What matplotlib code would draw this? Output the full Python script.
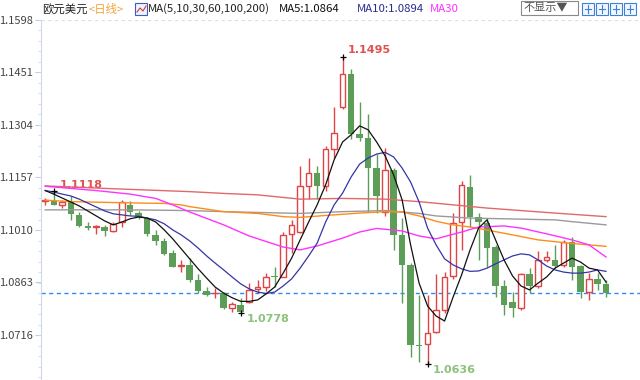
import numpy as np
import matplotlib
matplotlib.use("Agg")
import matplotlib.pyplot as plt
from matplotlib.patches import Rectangle
from matplotlib.lines import Line2D
from matplotlib.ticker import FixedLocator

plt.rcParams['font.family'] = ['Noto Sans CJK SC', 'DejaVu Sans']

# 欧元美元 日线
opens = [1.1091, 1.1092, 1.1080, 1.1092, 1.1052, 1.1021, 1.1019, 1.1018, 1.1008, 1.1033,
         1.1080, 1.1057, 1.1043, 1.0996, 1.0979, 1.0946, 1.0909, 1.0912, 1.0870, 1.0840,
         1.0832, 1.0833, 1.0791, 1.0800, 1.0809, 1.0844, 1.0851, 1.0881, 1.0879, 1.0998,
         1.1003, 1.1134, 1.1169, 1.1132, 1.1236, 1.1353, 1.1447, 1.1279, 1.1267, 1.1183,
         1.1061, 1.1178, 1.0996, 1.0912, 1.0688, 1.0692, 1.0725, 1.0787, 1.0880, 1.1031,
         1.1130, 1.1046, 1.1029, 1.0963, 1.0853, 1.0809, 1.0791, 1.0887, 1.0853, 1.0926,
         1.0926, 1.0912, 1.0975, 1.0909, 1.0837, 1.0872, 1.0859]
highs = [1.1099, 1.1118, 1.1094, 1.1104, 1.1061, 1.1033, 1.1024, 1.1024, 1.1033, 1.1094,
         1.1092, 1.1064, 1.1047, 1.1010, 1.0987, 1.0954, 1.0926, 1.0931, 1.0887, 1.0851,
         1.0847, 1.0837, 1.0809, 1.0819, 1.0860, 1.0870, 1.0889, 1.0907, 1.1005, 1.1038,
         1.1188, 1.1211, 1.1188, 1.1246, 1.1354, 1.1495, 1.1459, 1.1367, 1.1333, 1.1221,
         1.1239, 1.1183, 1.1043, 1.0917, 1.0828, 1.0828, 1.0887, 1.0893, 1.1057, 1.1146,
         1.1164, 1.1057, 1.1043, 1.0968, 1.0870, 1.0837, 1.0889, 1.0903, 1.0952, 1.0952,
         1.0968, 1.0982, 1.0990, 1.0912, 1.0889, 1.0889, 1.0870]
lows = [1.1080, 1.1079, 1.1071, 1.1038, 1.1019, 1.1010, 1.0999, 1.0993, 1.1005, 1.1019,
        1.1052, 1.1040, 1.0993, 1.0968, 1.0940, 1.0906, 1.0893, 1.0865, 1.0834, 1.0825,
        1.0819, 1.0789, 1.0781, 1.0778, 1.0805, 1.0833, 1.0840, 1.0851, 1.0877, 1.0945,
        1.1001, 1.1096, 1.1096, 1.1118, 1.1211, 1.1347, 1.1263, 1.1258, 1.1059, 1.1057,
        1.1049, 1.0954, 1.0805, 1.0655, 1.0641, 1.0636, 1.0722, 1.0777, 1.0873, 1.0954,
        1.1018, 1.0926, 1.0906, 1.0823, 1.0772, 1.0767, 1.0786, 1.0833, 1.0847, 1.0921,
        1.0903, 1.0907, 1.0870, 1.0819, 1.0814, 1.0842, 1.0823]
closes = [1.1093, 1.1080, 1.1088, 1.1054, 1.1021, 1.1015, 1.1020, 1.1008, 1.1026, 1.1088,
          1.1060, 1.1047, 1.0999, 1.0979, 1.0942, 1.0907, 1.0911, 1.0870, 1.0840, 1.0828,
          1.0833, 1.0791, 1.0802, 1.0781, 1.0842, 1.0851, 1.0877, 1.0877, 1.0996, 1.1024,
          1.1132, 1.1169, 1.1134, 1.1235, 1.1281, 1.1447, 1.1279, 1.1267, 1.1183, 1.1104,
          1.1178, 1.0996, 1.0912, 1.0688, 1.0685, 1.0722, 1.0786, 1.0878, 1.1028, 1.1136,
          1.1046, 1.1031, 1.0959, 1.0853, 1.0800, 1.0791, 1.0887, 1.0853, 1.0926, 1.0934,
          1.0909, 1.0977, 1.0907, 1.0837, 1.0872, 1.0859, 1.0833]

ma5 = [1.1120, 1.1110, 1.1099, 1.1088, 1.1077, 1.1063, 1.1049, 1.1035, 1.1024, 1.1032,
       1.1041, 1.1046, 1.1043, 1.1032, 1.1010, 1.0985, 1.0957, 1.0929, 1.0901, 1.0875,
       1.0850, 1.0833, 1.0820, 1.0810, 1.0810, 1.0814, 1.0831, 1.0850, 1.0889, 1.0931,
       1.0982, 1.1032, 1.1080, 1.1136, 1.1206, 1.1256, 1.1276, 1.1301, 1.1290, 1.1256,
       1.1217, 1.1164, 1.1094, 1.0968, 1.0861, 1.0797, 1.0769, 1.0755, 1.0822, 1.0884,
       1.0954, 1.1015, 1.1038, 1.0982, 1.0926, 1.0881, 1.0853, 1.0842, 1.0861, 1.0878,
       1.0903, 1.0917, 1.0931, 1.0920, 1.0903, 1.0898, 1.0864]
ma10 = [1.1120, 1.1116, 1.1110, 1.1105, 1.1096, 1.1085, 1.1074, 1.1063, 1.1055, 1.1052,
        1.1049, 1.1048, 1.1043, 1.1038, 1.1027, 1.1010, 1.0996, 1.0979, 1.0959, 1.0937,
        1.0917, 1.0898, 1.0878, 1.0859, 1.0845, 1.0836, 1.0832, 1.0836, 1.0853, 1.0873,
        1.0903, 1.0937, 1.0973, 1.1032, 1.1080, 1.1113, 1.1158, 1.1194, 1.1211, 1.1222,
        1.1227, 1.1214, 1.1183, 1.1144, 1.1088, 1.1015, 1.0968, 1.0929, 1.0912, 1.0901,
        1.0894, 1.0895, 1.0903, 1.0915, 1.0926, 1.0937, 1.0943, 1.0940, 1.0926, 1.0909,
        1.0898, 1.0892, 1.0889, 1.0889, 1.0892, 1.0898, 1.0894]

ma30_idx = [0, 3, 6, 10, 13, 15, 17, 21, 24, 28, 30, 32, 35, 37, 39, 42, 44, 46, 49, 51,
            54, 56, 59, 62, 64, 66]
ma30 = [1.1132, 1.1126, 1.1120, 1.1110, 1.1098, 1.1080, 1.1060, 1.1024, 1.0993, 1.0962,
        1.0954, 1.0965, 1.0987, 1.1004, 1.1014, 1.1007, 1.0993, 1.0985, 1.1004, 1.1018,
        1.1021, 1.1015, 1.0999, 1.0982, 1.0968, 1.0934]
ma60_idx = [0, 3, 9, 14, 16, 17, 21, 25, 28, 30, 34, 37, 40, 42, 44, 46, 48, 50, 51, 55,
            58, 62, 66]
ma60 = [1.1093, 1.1089, 1.1086, 1.1084, 1.1080, 1.1075, 1.1061, 1.1056, 1.1047, 1.1045,
        1.1052, 1.1057, 1.1061, 1.1060, 1.1049, 1.1034, 1.1024, 1.1018, 1.1014, 1.0996,
        1.0982, 1.0972, 1.0964]
ma100_idx = [0, 10, 17, 21, 30, 35, 40, 44, 46, 50, 56, 60, 62, 66]
ma100 = [1.1066, 1.1066, 1.1064, 1.1061, 1.1056, 1.1061, 1.1064, 1.1056, 1.1049, 1.1043,
         1.1040, 1.1038, 1.1033, 1.1024]
ma200_idx = [0, 7, 17, 21, 25, 30, 35, 40, 44, 48, 52, 56, 60, 66]
ma200 = [1.1133, 1.1126, 1.1117, 1.1112, 1.1108, 1.1096, 1.1098, 1.1096, 1.1089, 1.1080,
         1.1071, 1.1064, 1.1057, 1.1047]

# marked local extremes: (candle index, 'high' / 'low')
marks = [(1, 'high'), (35, 'high'), (23, 'low'), (45, 'low')]

yticks = [1.0716, 1.0863, 1.1010, 1.1157, 1.1304, 1.1451, 1.1598]

RED = '#e04444'
GREEN = '#5c9e58'

fig = plt.figure(figsize=(6.4, 3.8), dpi=100)
ax = fig.add_axes([41 / 640, 0, 599 / 640, 360.3 / 380])

o = np.array(opens)
h = np.array(highs)
l = np.array(lows)
c = np.array(closes)
x = np.arange(len(c))
up = c >= o
lo = np.minimum(o, c)
hi = np.maximum(o, c)

# green (down) candles
ax.vlines(x[~up], l[~up], h[~up], color=GREEN, lw=1, zorder=2)
ax.bar(x[~up], np.maximum(hi[~up] - lo[~up], 0.00012), bottom=lo[~up], width=0.76,
       color=GREEN, lw=0, zorder=3)
# red (up) hollow candles
ax.vlines(x[up], hi[up], h[up], color=RED, lw=1, zorder=2)
ax.vlines(x[up], l[up], lo[up], color=RED, lw=1, zorder=2)
ax.bar(x[up], np.maximum(hi[up] - lo[up], 0.00005), bottom=lo[up], width=0.66,
       facecolor='white', edgecolor=RED, lw=1, zorder=3)

ax.plot(ma200_idx, ma200, color='#e06a6a', lw=1, zorder=4)
ax.plot(ma100_idx, ma100, color='#9a9a9a', lw=1, zorder=4)
ax.plot(ma60_idx, ma60, color='#ff8c1a', lw=1, zorder=4)
ax.plot(ma30_idx, ma30, color='#ff33ff', lw=1, zorder=4)
ax.plot(x, ma10, color='#3535a5', lw=0.9, zorder=5)
ax.plot(x, ma5, color='#111111', lw=0.9, zorder=6)

# last price line
ax.axhline(closes[-1], color='#2f8bf0', lw=1, ls=(0, (3, 2.5)), zorder=1)
ax.axhline(yticks[-1], color='#dddddd', lw=0.8, ls=(0, (3, 3)), zorder=1)

for i, kind in marks:
    if kind == 'high':
        v = highs[i]
        ax.plot(i, v, marker='+', ms=5, mew=0.9, color='black', zorder=7)
        ax.annotate(f'{v:.4f}', (i, v), xytext=(4, 1), textcoords='offset points',
                    ha='left', va='bottom', color='#e05050', fontsize=8, fontweight='bold',
                    family=['DejaVu Sans'])
    else:
        v = lows[i]
        ax.plot(i, v, marker='+', ms=5, mew=0.9, color='black', zorder=7)
        ax.annotate(f'{v:.4f}', (i, v), xytext=(4, -1), textcoords='offset points',
                    ha='left', va='top', color='#8cc27c', fontsize=8, fontweight='bold',
                    family=['DejaVu Sans'])

ax.set_xlim(-0.5, 70)
ax.set_ylim(1.0590, 1.1598)
ax.set_yticks(yticks, [f'{t:.4f}' for t in yticks])
ax.yaxis.set_minor_locator(FixedLocator(np.arange(1.0598, 1.1598, 0.00294)))
ax.set_xticks([])
for s in ['top', 'right', 'bottom']:
    ax.spines[s].set_visible(False)
ax.spines['left'].set_color('#d0dae6')
ax.tick_params(axis='y', which='major', length=4, color='#c0ccd8', pad=2,
               labelsize=8, labelcolor='#444444')
ax.tick_params(axis='y', which='minor', length=2, color='#d0dae6')

# header
def ft(px, py, s, color='#222222', size=8.2, **kw):
    fig.text(px / 640, 1 - py / 380, s, color=color, fontsize=size, va='center', ha='left', **kw)

ft(42, 9, '欧元美元')
ft(89, 9, '<日线>', color='#f2a23c')
fig.add_artist(Rectangle((135 / 640, 1 - 15 / 380), 12 / 640, 12 / 380,
                         transform=fig.transFigure, facecolor='#eef3ff', edgecolor='#3b5fc0', lw=0.8))
fig.add_artist(Line2D([137 / 640, 140 / 640, 143 / 640, 146 / 640],
                      [1 - 12 / 380, 1 - 8 / 380, 1 - 11 / 380, 1 - 6 / 380],
                      transform=fig.transFigure, color='#d03a3a', lw=0.8))
ft(148, 9, 'MA(5,10,30,60,100,200)')
ft(279, 9, 'MA5:1.0864', color='#111111')
ft(357, 9, 'MA10:1.0894', color='#2b2b8c')
ft(430, 9, 'MA30', color='#ff33ff')

fig.add_artist(Rectangle((521 / 640, 1 - 15 / 380), 57 / 640, 14 / 380,
                         transform=fig.transFigure, facecolor='white', edgecolor='#8a8a8a', lw=0.8))
ft(524, 8.5, '不显示▼', color='#555555', size=8)
for k in range(4):
    x0 = 582 + 14 * k
    fig.add_artist(Rectangle((x0 / 640, 1 - 15 / 380), 12 / 640, 12 / 380,
                             transform=fig.transFigure, facecolor='#f2f7ff', edgecolor='#3b82d6', lw=0.8))
    fig.add_artist(Line2D([(x0 + 3) / 640, (x0 + 9) / 640], [1 - 9 / 380, 1 - 9 / 380],
                          transform=fig.transFigure, color='#3b82d6', lw=0.8))
    fig.add_artist(Line2D([(x0 + 6) / 640, (x0 + 6) / 640], [1 - 5 / 380, 1 - 13 / 380],
                          transform=fig.transFigure, color='#3b82d6', lw=0.8))

fig.savefig('out.png', dpi=100)
